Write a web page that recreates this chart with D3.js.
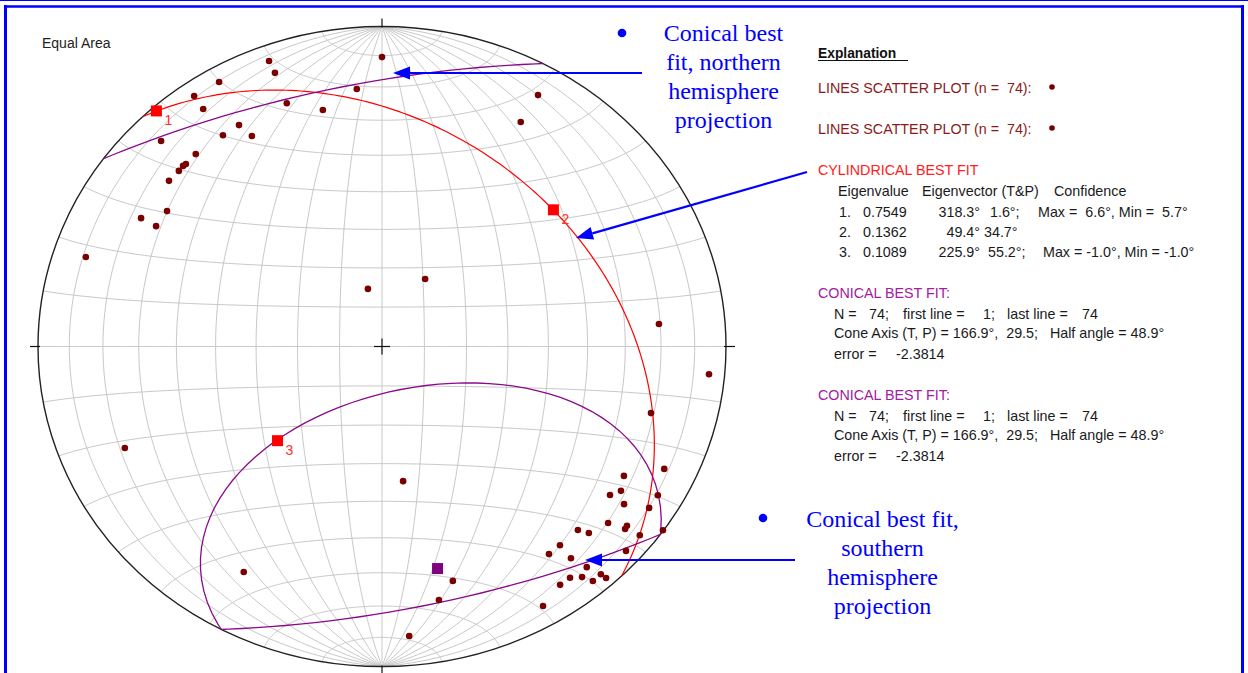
<!DOCTYPE html>
<html><head><meta charset="utf-8">
<script src="https://cdn.jsdelivr.net/npm/d3@7"></script>
<style>
body{margin:0;background:#fff;}
svg{display:block;}
text{white-space:pre;}
</style>
</head><body>
<svg id="c" width="1248" height="673"></svg>
<script>
// ---------------- DATA ----------------
// Lines (trend, plunge in degrees)
const lineTrend = [339.8,340.0,330.2,325.1,325.0,340.0,346.9,354.8,0.0,329.0,
  325.0,330.1,315.0,318.0,315.0,314.3,312.9,309.9,304.1,299.8,
  299.8,288.0,347.2,30.7,29.9,30.0,247.0,171.7,209.7,175.0,
  164.3,168.2,85.0,95.2,104.9,115.0,119.9,123.0,125.0,120.1,
  125.0,123.0,130.0,128.2,128.9,125.1,135.2,134.1,128.2,140.2,
  143.2,132.0,140.3,139.2,141.1,142.9,145.2,140.1,138.2,138.0,150.0];
const linePlunge = [5.5,9.9,5.3,5.1,10.3,20.2,25.1,20.3,10.5,20.4,
  20.5,25.1,10.1,20.2,20.5,20.3,20.5,20.4,25.5,20.4,
  25.3,10.4,75.0,70.0,20.2,10.2,19.9,55.0,20.0,10.1,
  24.9,20.2,20.3,5.1,20.2,10.4,20.0,18.3,20.2,8.1,
  15.2,8.2,15.3,10.3,10.1,0.2,20.3,17.4,5.2,20.3,
  20.1,5.1,15.1,9.8,8.2,10.3,10.2,5.0,5.1,3.0,7.1];
const nLines = 74;
// Cylindrical best fit
const eigenLabels = ["1","2","3"];
const eigenValues = [0.7549, 0.1362, 0.1089];
const eigenTrend = [318.3, 49.4, 225.9];
const eigenPlunge = [1.6, 34.7, 55.2];
const confMax = [6.6, null, -1.0];
const confMin = [5.7, null, -1.0];
// Conical best fit
const coneTrend = 166.9, conePlunge = 29.5, coneHalfAngle = 48.9;
const coneFirst = 1, coneLast = 74, coneError = -2.3814;
// Annotations
const northNote = ["Conical best","fit, northern","hemisphere","projection"];
const southNote = ["Conical best fit,","southern","hemisphere","projection"];

// ---------------- LAYOUT ----------------
const cx = 382, cy = 346.5, rx = 344, ry = 320;
const svg = d3.select("#c");
const rad = Math.PI/180;
const BLUE = "#0000ff", MAROON = "#7a0000", RED = "#ff0000", PURPLE = "#8a0a8a";

function vecOf(trend, plunge){
  const t = trend*rad, p = plunge*rad;
  return [Math.cos(p)*Math.cos(t), Math.cos(p)*Math.sin(t), Math.sin(p)]; // N,E,D
}
function llOfVec(v){ return [Math.atan2(v[1], v[2])/rad, Math.asin(Math.max(-1,Math.min(1,v[0])))/rad]; }
function vecOfLL(ll){ const l=ll[0]*rad, f=ll[1]*rad; return [Math.sin(f), Math.cos(f)*Math.sin(l), Math.cos(f)*Math.cos(l)]; }
const toLL = (t,p) => llOfVec(vecOf(t,p));

const proj = d3.geoAzimuthalEqualArea().rotate([0,0]).scale(rx/Math.SQRT2)
  .translate([cx,cy]).clipAngle(90).precision(0.2);
const sy = d3.scaleLinear().domain([cy-rx, cy+rx]).range([cy-ry, cy+ry]);
const squash = d3.geoTransform({point(x,y){ this.stream.point(x, sy(y)); }});
const path = d3.geoPath({stream: s => proj.stream(squash.stream(s))});
const pt = ll => { const p = proj(ll); return [p[0], sy(p[1])]; };

// ---------------- FRAME ----------------
svg.append("rect").attr("width",1248).attr("height",673).attr("fill","#fff");
const fr = svg.append("g").attr("stroke",BLUE).attr("fill","none");
fr.append("line").attr("x1",0).attr("x2",1248).attr("y1",0.5).attr("y2",0.5).attr("stroke-width",1);
fr.append("line").attr("x1",4).attr("x2",1244).attr("y1",6.5).attr("y2",6.5).attr("stroke-width",2.5);
fr.append("line").attr("x1",5.5).attr("x2",5.5).attr("y1",5).attr("y2",673).attr("stroke-width",3);
fr.append("line").attr("x1",1242.5).attr("x2",1242.5).attr("y1",5).attr("y2",673).attr("stroke-width",3);

// ---------------- NET ----------------
const grid = [];
for (let lon=-80; lon<=80; lon+=10)
  grid.push({type:"LineString", coordinates: d3.range(-89.99, 89.995, 1).concat([89.99]).map(lat=>[lon,lat])});
for (let lat=-80; lat<=80; lat+=10)
  grid.push({type:"LineString", coordinates: d3.range(-89.99, 89.995, 1).concat([89.99]).map(lon=>[lon,lat])});
svg.append("g").selectAll("path").data(grid).join("path")
  .attr("d", path).attr("fill","none").attr("stroke","#c8c8c8").attr("stroke-width",1);

svg.append("ellipse").attr("cx",cx).attr("cy",cy).attr("rx",rx).attr("ry",ry)
  .attr("fill","none").attr("stroke","#222").attr("stroke-width",1.4);

const tk = svg.append("g").attr("stroke","#111").attr("stroke-width",1.2);
tk.append("line").attr("x1",cx).attr("x2",cx).attr("y1",cy-ry-8).attr("y2",cy-ry+1);
tk.append("line").attr("x1",cx).attr("x2",cx).attr("y1",cy+ry-1).attr("y2",cy+ry+8);
tk.append("line").attr("y1",cy).attr("y2",cy).attr("x1",cx-rx-8).attr("x2",cx-rx+2);
tk.append("line").attr("y1",cy).attr("y2",cy).attr("x1",cx+rx-2).attr("x2",cx+rx+9);
tk.append("line").attr("x1",cx-8).attr("x2",cx+8).attr("y1",cy).attr("y2",cy);
tk.append("line").attr("x1",cx).attr("x2",cx).attr("y1",cy-8).attr("y2",cy+8);

// ---------------- CURVES ----------------
// cylindrical best-fit great circle (normal to eigenvector 3)
const gc = d3.geoCircle().center(toLL(eigenTrend[2], eigenPlunge[2])).radius(90).precision(1)();
svg.append("path").attr("d", path({type:"LineString", coordinates: gc.coordinates[0]}))
  .attr("fill","none").attr("stroke",RED).attr("stroke-width",1.2);

// conical best fit small circle
const cone = d3.geoCircle().center(toLL(coneTrend, conePlunge)).radius(coneHalfAngle).precision(4)();
const ring = cone.coordinates[0];
const reflected = ring.map(ll => { const v = vecOfLL(ll); return llOfVec([v[0], v[1], -v[2]]); });
const antipodal = ring.map(ll => { const v = vecOfLL(ll); return llOfVec([-v[0], -v[1], -v[2]]); });
[ring, reflected, antipodal].forEach(c => {
  svg.append("path").attr("d", path({type:"LineString", coordinates: c}))
    .attr("fill","none").attr("stroke",PURPLE).attr("stroke-width",1.3);
});

// ---------------- POINTS ----------------
const pts = lineTrend.map((t,i) => pt(toLL(t, linePlunge[i])));
svg.append("g").selectAll("circle").data(pts).join("circle")
  .attr("cx", d=>d[0]).attr("cy", d=>d[1]).attr("r",3.3).attr("fill",MAROON);

// eigenvectors
const eg = svg.append("g");
eigenTrend.forEach((t,i) => {
  const p = pt(toLL(t, eigenPlunge[i]));
  eg.append("rect").attr("x",p[0]-5.5).attr("y",p[1]-5.5).attr("width",11).attr("height",11).attr("fill",RED);
  eg.append("text").attr("x",p[0]+8).attr("y",p[1]+14).text(eigenLabels[i])
    .attr("fill","#ff3030").attr("font-family","Liberation Sans, Arial").attr("font-size",14);
});
// cone axis
const ca = pt(toLL(coneTrend, conePlunge));
svg.append("rect").attr("x",ca[0]-5.5).attr("y",ca[1]-5.5).attr("width",11).attr("height",11).attr("fill","#800080");

// ---------------- TEXT PANEL ----------------
const F = "Liberation Sans, Arial, sans-serif";
function t(x,y,s,fill,extra){
  const e = svg.append("text").attr("x",x).attr("y",y).text(s).attr("fill",fill||"#1a1a1a")
    .attr("font-family",F).attr("font-size",14.3);
  if (extra) extra(e);
  return e;
}
t(42,48,"Equal Area","#222", e=>e.attr("font-size",14));
t(818,58,"Explanation ","#111", e=>e.attr("font-weight","bold").attr("font-size",13.8));
svg.append("line").attr("x1",818).attr("x2",908).attr("y1",60.5).attr("y2",60.5).attr("stroke","#111").attr("stroke-width",1.2);
[93,134].forEach(y => {
  t(818,y,`LINES SCATTER PLOT (n =  ${nLines}):`,"#8b1a1a");
  svg.append("circle").attr("cx",1052).attr("cy",y-6).attr("r",2.8).attr("fill",MAROON);
});
t(818,175,"CYLINDRICAL BEST FIT","#ff2020");
t(838,196,"Eigenvalue"); t(922,196,"Eigenvector (T&P)"); t(1054,196,"Confidence");
const rowY = [217,237,257];
const plX = [990,984,988];
const cfX = [1038,null,1043];
eigenValues.forEach((v,i) => {
  t(839,rowY[i],`${i+1}.`);
  t(863,rowY[i],v.toFixed(4));
  t(980,rowY[i],`${eigenTrend[i].toFixed(1)}°`,null,e=>e.attr("text-anchor","end"));
  t(plX[i],rowY[i],`${eigenPlunge[i].toFixed(1)}°` + (confMax[i]!==null?";":""));
  if (confMax[i]!==null){
    const f = v => (v<0? " ":"  ") + v.toFixed(1) + "°";
    t(cfX[i],rowY[i],`Max =${f(confMax[i])}, Min =${f(confMin[i])}`);
  }
});
[298,400].forEach(y0 => {
  t(818,y0,"CONICAL BEST FIT:","#a020a0");
  const y1 = y0+20.5;
  t(834,y1,"N ="); t(869,y1,`${nLines};`); t(903,y1,"first line ="); t(983,y1,`${coneFirst};`);
  t(1007,y1,"last line ="); t(1082,y1,`${coneLast}`);
  t(834,y0+40,`Cone Axis (T, P) = ${coneTrend.toFixed(1)}°,  ${conePlunge.toFixed(1)};   Half angle = ${coneHalfAngle.toFixed(1)}°`);
  t(834,y0+61,"error ="); t(896,y0+61,coneError.toFixed(4));
});

// ---------------- ANNOTATIONS ----------------
const SF = "Liberation Serif, Times New Roman, serif";
function note(lines, xc, y0, bx, by){
  svg.append("circle").attr("cx",bx).attr("cy",by).attr("r",4.3).attr("fill",BLUE);
  lines.forEach((s,i) => svg.append("text").attr("x",xc).attr("y",y0+i*29).text(s)
    .attr("text-anchor","middle").attr("fill",BLUE).attr("font-family",SF).attr("font-size",24));
}
note(northNote, 723.5, 41, 622, 33);
note(southNote, 882.5, 527, 763, 518);

function arrow(x1,y1,x2,y2){
  const a = Math.atan2(y2-y1, x2-x1), L = 17, w = 6.5;
  const bx = x2 - L*Math.cos(a), by = y2 - L*Math.sin(a);
  svg.append("line").attr("x1",x1).attr("y1",y1).attr("x2",bx).attr("y2",by)
    .attr("stroke",BLUE).attr("stroke-width",2.2);
  svg.append("path").attr("d", `M${x2},${y2}L${bx+w*Math.sin(a)},${by-w*Math.cos(a)}L${bx-w*Math.sin(a)},${by+w*Math.cos(a)}Z`)
    .attr("fill",BLUE);
}
arrow(642,73,393,73);
arrow(807,172,576,238);
arrow(795,560,585,560);
</script>
</body></html>
